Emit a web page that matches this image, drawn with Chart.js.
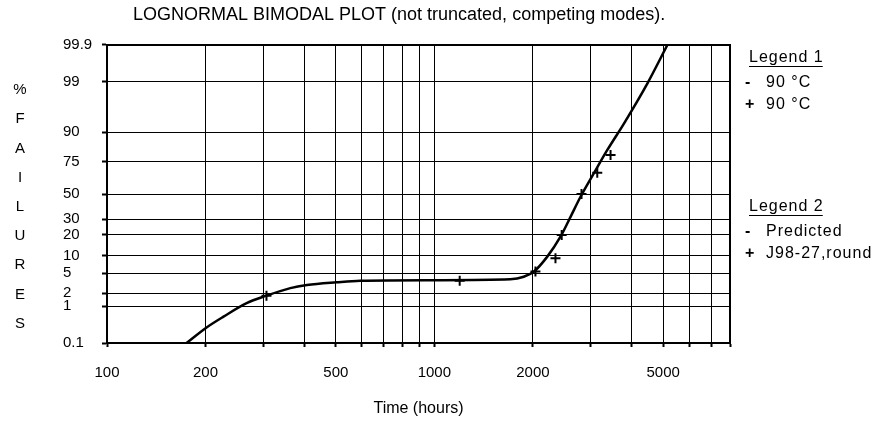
<!DOCTYPE html>
<html>
<head>
<meta charset="utf-8">
<title>Lognormal bimodal plot</title>
<script src="https://cdn.jsdelivr.net/npm/chart.js@4.4.0/dist/chart.umd.min.js"></script>
<style>
  html, body { margin: 0; padding: 0; background: #fff; }
  #wrap { width: 875px; height: 425px; }
</style>
</head>
<body>
<div id="wrap"><canvas id="myChart" width="875" height="425"></canvas></div>
<script>
// fitted curve (time in hours, % failures)
const curveTime = [175, 200, 227, 267, 307, 363, 408, 503, 594, 1000, 1707, 1875, 2015, 2213, 2428, 2606, 2796, 3069, 3372, 3794, 4472, 5150];
const curvePct = [0.1, 0.27, 0.55, 1.18, 1.75, 2.55, 2.95, 3.35, 3.6, 3.7, 3.85, 4.3, 5.4, 9.7, 18.8, 31.8, 47.7, 66.5, 81.8, 92.8, 98.9, 99.9];

// observed failures
const dataTime = [307, 1195, 2036, 2344, 2449, 2815, 3145, 3453];
const dataPct = [1.75, 3.6, 5.4, 9.1, 19.7, 50, 67, 79];

// axes
const yTickPct = [0.1, 1, 2, 5, 10, 20, 30, 50, 75, 90, 99, 99.9];
const yTickLabels = ["0.1", "1", "2", "5", "10", "20", "30", "50", "75", "90", "99", "99.9"];
const xTickValues = [100, 200, 300, 400, 500, 600, 700, 800, 900, 1000, 2000, 3000, 4000, 5000, 6000, 7000, 8000];
const xTickLabels = ["100", "200", "", "", "500", "", "", "", "", "1000", "2000", "", "", "5000", "", "", ""];

const chartTitle = "LOGNORMAL BIMODAL PLOT (not truncated, competing modes).";
const xTitle = "Time (hours)";
const yTitle = "%FAILURES";

const FONT = '"Liberation Sans", Arial, sans-serif';

// inverse of the standard normal cdf (Acklam)
function probit(p) {
  const a = [-39.69683028665376, 220.9460984245205, -275.9285104469687, 138.3577518672690, -30.66479806614716, 2.506628277459239];
  const b = [-54.47609879822406, 161.5858368580409, -155.6989798598866, 66.80131188771972, -13.28068155288572];
  const c = [-0.007784894002430293, -0.3223964580411365, -2.400758277161838, -2.549732539343734, 4.374664141464968, 2.938163982698783];
  const d = [0.007784695709041462, 0.3224671290700398, 2.445134137142996, 3.754408661907416];
  const pl = 0.02425;
  let q, r;
  if (p < pl) {
    q = Math.sqrt(-2 * Math.log(p));
    return (((((c[0] * q + c[1]) * q + c[2]) * q + c[3]) * q + c[4]) * q + c[5]) / ((((d[0] * q + d[1]) * q + d[2]) * q + d[3]) * q + 1);
  }
  if (p > 1 - pl) {
    q = Math.sqrt(-2 * Math.log(1 - p));
    return -(((((c[0] * q + c[1]) * q + c[2]) * q + c[3]) * q + c[4]) * q + c[5]) / ((((d[0] * q + d[1]) * q + d[2]) * q + d[3]) * q + 1);
  }
  q = p - 0.5;
  r = q * q;
  return (((((a[0] * r + a[1]) * r + a[2]) * r + a[3]) * r + a[4]) * r + a[5]) * q / (((((b[0] * r + b[1]) * r + b[2]) * r + b[3]) * r + b[4]) * r + 1);
}

function toPoints(times, pcts) {
  return times.map((t, i) => ({ x: t, y: probit(pcts[i] / 100) }));
}

// title, axis titles, frame and the two text legends
const annotations = {
  id: "annotations",
  afterDraw(chart) {
    const ctx = chart.ctx;
    const a = chart.chartArea;
    ctx.save();
    ctx.strokeStyle = "#000";
    ctx.lineWidth = 2;
    ctx.strokeRect(a.left, a.top, a.right - a.left, a.bottom - a.top);

    ctx.fillStyle = "#000";
    ctx.textBaseline = "middle";
    ctx.textAlign = "left";
    ctx.font = "18px " + FONT;
    ctx.fillText(chartTitle, 133, 15);

    ctx.textAlign = "center";
    ctx.font = "16px " + FONT;
    ctx.fillText(xTitle, (a.left + a.right) / 2, 409);

    ctx.font = "15px " + FONT;
    yTitle.split("").forEach((ch, i) => {
      ctx.fillText(ch, 20, 90 + i * 29.2);
    });

    const legends = [
      { title: "Legend 1", y: 58, rows: [["-", "90 °C"], ["+", "90 °C"]] },
      { title: "Legend 2", y: 207, rows: [["-", "Predicted"], ["+", "J98-27,round"]] }
    ];
    ctx.textAlign = "left";
    ctx.letterSpacing = "1px";
    legends.forEach((lg) => {
      ctx.font = "16px " + FONT;
      ctx.fillText(lg.title, 749, lg.y);
      const w = ctx.measureText(lg.title).width;
      ctx.lineWidth = 1;
      ctx.beginPath();
      ctx.moveTo(749, lg.y + 8.5);
      ctx.lineTo(749 + w - 1, lg.y + 8.5);
      ctx.stroke();
      lg.rows.forEach((row, i) => {
        const y = lg.y + 25 + i * 22;
        ctx.font = "bold 16px " + FONT;
        ctx.fillText(row[0], 745, y);
        ctx.font = "16px " + FONT;
        ctx.fillText(row[1], 766, y);
      });
    });
    ctx.restore();
  }
};

const data = {
  datasets: [
    {
      label: "Predicted",
      data: toPoints(curveTime, curvePct),
      showLine: true,
      borderColor: "#000",
      borderWidth: 2.5,
      pointRadius: 0,
      cubicInterpolationMode: "monotone",
      fill: false
    },
    {
      label: "J98-27,round",
      data: toPoints(dataTime, dataPct),
      showLine: false,
      pointStyle: "cross",
      pointRadius: 5,
      borderColor: "#000",
      borderWidth: 2
    }
  ]
};

const config = {
  type: "scatter",
  data,
  options: {
    responsive: false,
    devicePixelRatio: 1,
    animation: false,
    layout: { padding: { left: 63, top: 45, right: 145, bottom: 0 } },
    plugins: {
      legend: { display: false },
      tooltip: { enabled: false }
    },
    scales: {
      x: {
        type: "logarithmic",
        min: 100,
        max: 8000,
        afterBuildTicks: (scale) => {
          scale.ticks = xTickValues.map((v) => ({ value: v }));
        },
        afterFit: (scale) => { scale.height = 82; },
        ticks: {
          autoSkip: false,
          maxRotation: 0,
          padding: 17,
          color: "#000",
          font: { family: FONT, size: 15 },
          callback: (v, i) => xTickLabels[i]
        },
        grid: { color: "#000", lineWidth: 1, tickLength: 4, tickWidth: 2, tickColor: "#000" },
        border: { color: "#000", width: 2 }
      },
      y: {
        type: "linear",
        min: probit(0.001),
        max: probit(0.999),
        afterBuildTicks: (scale) => {
          scale.ticks = yTickPct.map((p) => ({ value: probit(p / 100) }));
        },
        afterFit: (scale) => { scale.width = 44; },
        ticks: {
          autoSkip: false,
          crossAlign: "far",
          color: "#000",
          font: { family: FONT, size: 15 },
          callback: (v, i) => yTickLabels[i]
        },
        grid: { color: "#000", lineWidth: 1, tickLength: 5, tickWidth: 2, tickColor: "#000" },
        border: { color: "#000", width: 2 }
      }
    }
  },
  plugins: [annotations]
};

var myChart = new Chart(document.getElementById("myChart"), config);
</script>
</body>
</html>
